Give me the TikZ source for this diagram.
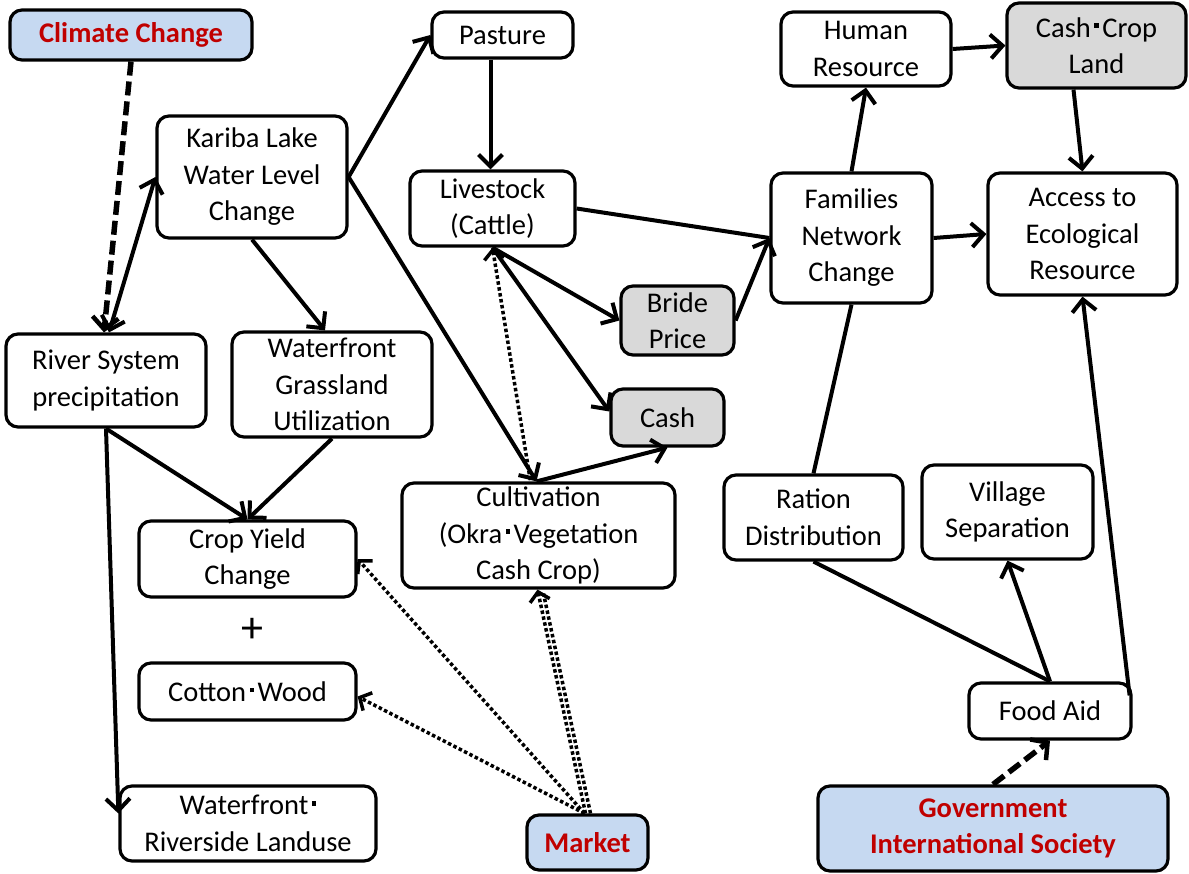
\documentclass[tikz,border=0pt]{standalone}
\usepackage{fontspec}
\setmainfont{Carlito}
\usetikzlibrary{arrows.meta}
\definecolor{boxblue}{RGB}{198,217,241}
\definecolor{boxred}{RGB}{192,0,0}
\definecolor{boxgrey}{RGB}{217,217,217}
\newcommand\mdot{\hspace{0.12em}\rule[0.32em]{0.16em}{0.16em}\hspace{0.12em}}
\tikzset{
  box/.style={draw, line width=3.2pt, rounded corners=12pt, align=center, inner sep=0pt,
    font=\fontsize{28.5}{36.5}\selectfont, fill=white},
  greybox/.style={box, fill=boxgrey},
  bluebox/.style={box, fill=boxblue, text=boxred, font=\bfseries\fontsize{28.5}{36.5}\selectfont},
  link/.style={line width=4pt},
  arr/.style={link, -{Straight Barb[length=12pt,width=24pt,line width=4pt]}},
  dblarr/.style={link, {Straight Barb[length=12pt,width=24pt,line width=4pt]}-{Straight Barb[length=12pt,width=24pt,line width=4pt]}},
  dotarr/.style={line width=3.5pt, dash pattern=on 3.5pt off 2.5pt, -{Straight Barb[length=9pt,width=20pt,line width=3.5pt]}},
  dotrev/.style={line width=3.5pt, dash pattern=on 3.5pt off 2.5pt, {Straight Barb[length=9pt,width=20pt,line width=3.5pt]}-},
  dasharr/.style={line width=5.5pt, dash pattern=on 14pt off 6pt, -{Straight Barb[length=12pt,width=26pt,line width=4.5pt]}},
}
\begin{document}
\begin{tikzpicture}[x=1pt,y=-1pt]
\useasboundingbox (0,0) rectangle (1189,874);
% nodes
\node[bluebox, minimum width=242pt, minimum height=50pt] (clim) at (131,35) {Climate Change};
\node[box, minimum width=141pt, minimum height=46pt] (past) at (502.5,35) {Pasture};
\node[box, minimum width=190pt, minimum height=122pt] (kar) at (252,177) {Kariba Lake\\Water Level\\Change};
\node[box, minimum width=165pt, minimum height=75pt] (live) at (492.5,208.5) {Livestock\\(Cattle)};
\node[box, minimum width=170pt, minimum height=74pt] (hum) at (866,49) {Human\\Resource};
\node[greybox, minimum width=179pt, minimum height=85pt] (ccl) at (1096.5,45.5) {Cash\mdot Crop\\Land};
\node[box, minimum width=161pt, minimum height=130pt] (fam) at (851.5,238) {Families\\Network\\Change};
\node[box, minimum width=189pt, minimum height=122pt] (acc) at (1082.5,234) {Access to\\Ecological\\Resource};
\node[greybox, minimum width=113pt, minimum height=69pt] (bride) at (677.5,320.5) {Bride\\Price};
\node[box, minimum width=200pt, minimum height=93pt] (river) at (106,380.5) {River System\\precipitation};
\node[box, minimum width=200pt, minimum height=105pt] (wgu) at (332,384.5) {Waterfront\\Grassland\\Utilization};
\node[greybox, minimum width=113pt, minimum height=57pt] (cash) at (667.5,417.5) {Cash};
\node[box, minimum width=273pt, minimum height=105pt] (cult) at (538.5,535.5) {Cultivation\\(Okra\mdot Vegetation\\Cash Crop)};
\node[box, minimum width=217pt, minimum height=76pt] (cyc) at (247.5,559) {Crop Yield\\Change};
\node[font=\fontsize{44}{44}\selectfont] (plus) at (252,630) {+};
\node[box, minimum width=217pt, minimum height=57pt] (cot) at (247.5,691.5) {Cotton\mdot Wood};
\node[box, minimum width=256pt, minimum height=75pt] (wrl) at (248,823.5) {Waterfront\mdot\\Riverside Landuse};
\node[bluebox, minimum width=121pt, minimum height=55pt] (mkt) at (587.5,842.5) {Market};
\node[box, minimum width=179pt, minimum height=85pt] (ration) at (813.5,517.5) {Ration\\Distribution};
\node[box, minimum width=171pt, minimum height=94pt] (vil) at (1007.5,512) {Village\\Separation};
\node[box, minimum width=162pt, minimum height=56pt] (food) at (1050,711) {Food Aid};
\node[bluebox, minimum width=350pt, minimum height=85pt] (gov) at (993,828.5) {Government\\International Society};
% connectors
\draw[dasharr] (clim.south) -- ([xshift=-2pt]river.north);
\draw[dblarr] ([xshift=3pt]river.north) -- (kar.west);
\draw[arr] (kar.east) -- (past.west);
\draw[arr] (kar.east) -- ([xshift=-2pt]cult.north);
\draw[arr] (kar.south) -- ([xshift=-7pt]wgu.north);
\draw[arr] ([xshift=-12pt]past.south) -- ([xshift=-2pt]live.north);
\draw[link] (live.east) -- (fam.west);
\draw[arr] (live.south) -- (bride.west);
\draw[arr] (live.south) -- ([yshift=6pt]cash.west);
\draw[dotrev] (live.south) -- ([xshift=-8pt]cult.north);
\draw[arr] ([xshift=-2pt]cult.north) -- (cash.south);
\draw[arr] (bride.east) -- (fam.west);
\draw[arr] (fam.north) -- (hum.south);
\draw[arr] (hum.east) -- (ccl.west);
\draw[arr] ([xshift=-23pt]ccl.south) -- (acc.north);
\draw[arr] (fam.east) -- (acc.west);
\draw[link] (ration.north) -- (fam.south);
\draw[arr] (river.south) -- (cyc.north);
\draw[arr] (wgu.south) -- (cyc.north);
\draw[arr] (river.south) -- ([yshift=10pt]wrl.west);
\draw[dotarr] ([xshift=-3pt]mkt.north) -- (cyc.east);
\draw[dotarr] ([xshift=-3pt]mkt.north) -- ([yshift=-5pt]cot.east);
\draw[dotarr] ([xshift=-2pt]mkt.north) -- ([xshift=-1pt]cult.south);
\draw[line width=3.5pt, dash pattern=on 3.5pt off 2.5pt] ([xshift=3pt]mkt.north) -- ([xshift=5pt,yshift=-4pt]cult.south);
\draw[link] (food.north) -- (ration.south);
\draw[arr] (food.north) -- (vil.south);
\draw[arr] ([xshift=-3pt,yshift=-14pt]food.north east) -- (acc.south);
\draw[dasharr] (gov.north) -- (food.south);
\end{tikzpicture}
\end{document}
